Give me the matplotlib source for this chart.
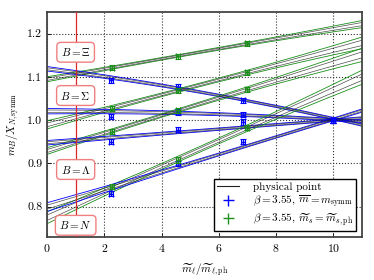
import matplotlib
matplotlib.use("Agg")
import matplotlib.pyplot as plt
import numpy as np
from matplotlib.lines import Line2D

plt.rcParams['font.family'] = 'serif'
plt.rcParams['font.serif'] = ['cmr10']
plt.rcParams['mathtext.fontset'] = 'cm'
plt.rcParams['axes.formatter.use_mathtext'] = True
plt.rcParams['font.size'] = 8

baryons = ["Xi", "Sigma", "Lambda", "N"]
box_labels = [r"$B=\Xi$", r"$B=\Sigma$", r"$B=\Lambda$", r"$B=N$"]
box_y = [1.157, 1.057, 0.886, 0.757]

# fit bands read at these nodes
x_nodes = [0, 2.75, 5.5, 8.25, 11]

# symmetric-line fits (blue)
symm_center = {
    "Xi":     [1.118, 1.095, 1.064, 1.026, 0.990],
    "Sigma":  [1.021, 1.019, 1.015, 1.008, 0.997],
    "Lambda": [0.948, 0.962, 0.977, 0.991, 1.005],
    "N":      [0.800, 0.852, 0.913, 0.966, 1.022],
}
symm_hw = {
    "Xi":     [0.005, 0.004, 0.003, 0.002, 0.003],
    "Sigma":  [0.006, 0.005, 0.004, 0.002, 0.003],
    "Lambda": [0.005, 0.004, 0.003, 0.002, 0.003],
    "N":      [0.010, 0.006, 0.004, 0.002, 0.004],
}
# fixed strange mass fits (green)
ms_center = {
    "Xi":     [1.095, 1.126, 1.160, 1.191, 1.222],
    "Sigma":  [0.990, 1.035, 1.085, 1.133, 1.178],
    "Lambda": [0.930, 0.982, 1.042, 1.098, 1.150],
    "N":      [0.773, 0.860, 0.935, 1.018, 1.100],
}
ms_hw = {
    "Xi":     [0.006, 0.003, 0.003, 0.005, 0.008],
    "Sigma":  [0.010, 0.004, 0.004, 0.008, 0.013],
    "Lambda": [0.008, 0.004, 0.004, 0.009, 0.015],
    "N":      [0.015, 0.006, 0.006, 0.012, 0.015],
}

# data points
symm_x = [2.23, 4.58, 6.85, 10.0]
symm_y = {
    "Xi":     [1.092, 1.077, 1.046, 1.000],
    "Sigma":  [1.008, 1.019, 1.013, 1.000],
    "Lambda": [0.950, 0.978, 0.996, 1.000],
    "N":      [0.830, 0.900, 0.950, 1.000],
}
ms_x = [2.27, 4.57, 7.0]
ms_y = {
    "Xi":     [1.121, 1.148, 1.178],
    "Sigma":  [1.027, 1.069, 1.111],
    "Lambda": [0.973, 1.023, 1.071],
    "N":      [0.846, 0.908, 0.983],
}
yerr = 0.006
xerr = 0.07

blue = '#0000ff'
green = '#1a901a'

fig = plt.figure(figsize=(3.74, 2.80), dpi=100)
ax = fig.add_axes([0.1257, 0.1536, 0.8423, 0.8034])

xf = np.linspace(0, 11, 200)


def smooth(vals):
    p = np.polyfit(x_nodes, vals, 2)
    return np.polyval(p, xf)


def band(center, hw, color):
    c = smooth(center)
    h = smooth(hw)
    ax.plot(xf, c + h, color=color, lw=0.6, zorder=2)
    ax.plot(xf, c - h, color=color, lw=0.6, zorder=2)
    ax.plot(xf, c + 0.45 * h, color='#222222', lw=0.5, alpha=0.8, zorder=2)
    ax.plot(xf, c - 0.45 * h, color='#222222', lw=0.5, alpha=0.8, zorder=2)


for b in baryons:
    band(ms_center[b], ms_hw[b], green)
    band(symm_center[b], symm_hw[b], blue)

for b in baryons:
    ax.errorbar(symm_x, symm_y[b], yerr=yerr, xerr=xerr, fmt='none',
                ecolor=blue, elinewidth=1.0, capsize=2.5, capthick=0.8, zorder=4)
    ax.errorbar(ms_x, ms_y[b], yerr=yerr, xerr=xerr, fmt='none',
                ecolor=green, elinewidth=1.0, capsize=2.5, capthick=0.8, zorder=4)

ax.axvline(1.0, color='#d82828', lw=0.9, zorder=3)

for lab, yy in zip(box_labels, box_y):
    ax.text(1.0, yy, lab, ha='center', va='center', fontsize=8, zorder=6,
            bbox=dict(boxstyle='round,pad=0.35', fc='white', ec='#f08080', lw=1.0))

ax.set_xlim(0, 11)
ax.set_ylim(0.73, 1.25)
ax.set_xticks([0, 2, 4, 6, 8, 10])
ax.set_yticks([0.8, 0.9, 1.0, 1.1, 1.2])
ax.set_yticklabels(["0.8", "0.9", "1.0", "1.1", "1.2"])
ax.grid(True, color='#333333', linestyle=':', lw=0.8)
ax.set_axisbelow(True)
for s in ax.spines.values():
    s.set_linewidth(1.3)
    s.set_color('#444444')
ax.tick_params(direction='in', length=3, width=0.6, labelsize=8.5)

ax.set_xlabel(r"$\widetilde{m}_\ell/\widetilde{m}_{\ell,\mathrm{ph}}$", fontsize=8, labelpad=5)
ax.set_ylabel(r"$m_B/X_{N,\mathrm{symm}}$", fontsize=8)

h_phys = Line2D([], [], color='#222222', lw=0.8)
h_symm = ax.errorbar([], [], yerr=[], xerr=[], fmt='none', ecolor=blue,
                     elinewidth=1.0, capsize=2.5)
h_ms = ax.errorbar([], [], yerr=[], xerr=[], fmt='none', ecolor=green,
                   elinewidth=1.0, capsize=2.5)
leg = ax.legend([h_phys, h_symm, h_ms],
                ["physical point",
                 r"$\beta=3.55$, $\overline{m}=m_{\mathrm{symm}}$",
                 r"$\beta=3.55$, $\widetilde{m}_s=\widetilde{m}_{s,\mathrm{ph}}$"],
                loc='lower right', fontsize=8, fancybox=False, framealpha=1,
                edgecolor='black', borderaxespad=0.5, handlelength=2.0,
                handletextpad=1.2, labelspacing=0.15, borderpad=0.3)
leg.get_frame().set_linewidth(1.0)
leg.set_zorder(10)

fig.savefig("out.png", dpi=100)
